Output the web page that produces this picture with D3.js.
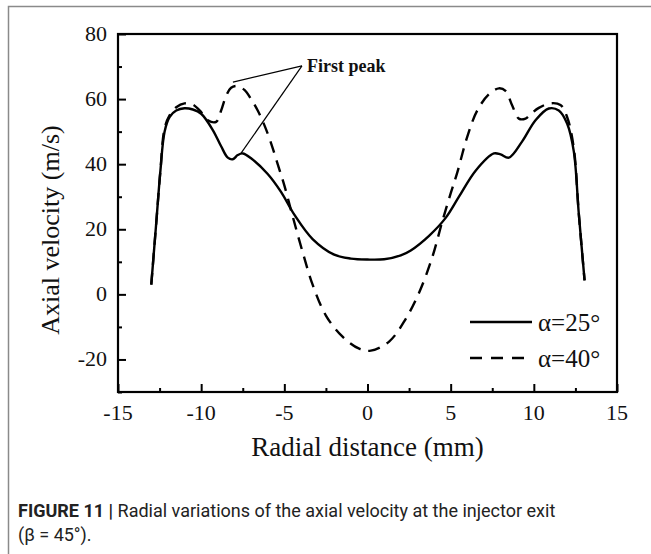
<!DOCTYPE html>
<html><head><meta charset="utf-8">
<script src="https://cdn.jsdelivr.net/npm/d3@7"></script>
<style>body{margin:0;background:#fff}svg{display:block}</style>
</head><body>
<script>
const radialX25 = [-13.0,-12.7,-12.45,-12.2,-11.9,-11.5,-11.0,-10.5,-10.0,-9.3,-8.8,-8.4,-8.1,-7.8,-7.5,-7.0,-6.0,-5.2,-4.4,-3.3,-2.0,-1.0,0,1.0,2.0,2.6,3.7,4.7,5.5,6.5,7.6,8.0,8.5,9.3,10.1,10.9,11.5,12.0,12.4,12.7,13.05];
const velocity25 = [3,22,38,50,54.5,56.5,57.2,56.8,55.5,50.5,45.5,42,41.5,42.8,43.3,41.8,37,31.5,24.5,17,12.2,11,10.7,10.8,12,13.5,18,23.5,30,38,43.3,43,42,47,53.5,57.1,56.5,52.5,44,25,4.3];
const radialX40 = [-13.0,-12.7,-12.45,-12.2,-11.9,-11.5,-11.0,-10.5,-10.0,-9.6,-9.1,-8.8,-8.5,-8.2,-7.8,-7.4,-7.0,-6.6,-6.2,-5.8,-5.4,-5.0,-4.5,-3.9,-3.3,-2.5,-1.5,-0.5,0.2,1.3,2.3,3.1,3.9,4.5,5.0,5.4,6.0,6.6,7.3,7.9,8.3,8.7,9.1,9.5,9.8,10.3,11.0,11.6,12.0,12.4,12.7,13.05];
const velocity40 = [3,22,38,51,55,57.5,58.7,58.3,56,53.5,53,56.5,61,63.5,64,62.8,60,56.5,52,46.5,40,33.5,24,13,3,-6.5,-13,-16.7,-17.3,-14.5,-7.5,0.5,11.5,22.5,31,37.5,48.5,56.5,61.5,63.3,62.5,58,54,54,55.3,57.3,58.7,58.2,54.5,45,25,4.3];
const xTicks = [-15,-10,-5,0,5,10,15];
const yTicks = [-20,0,20,40,60,80];
const seriesLabels = ["α=25°","α=40°"];
const annotationText = "First peak";
const annotationApex = [-3.94, 70.2];
const annotationTargets = [[-8.09, 65.2],[-7.6, 43.4]];

const W = 651, H = 554;
const svg = d3.select("body").append("svg").attr("width", W).attr("height", H);
svg.append("rect").attr("width", W).attr("height", H).attr("fill", "#fff");
svg.append("path").attr("d", `M${W},6.5 H8.5 V${H}`).attr("fill","none").attr("stroke","#8a8a8a").attr("stroke-width",1.5);

const x = d3.scaleLinear().domain([-15,15]).range([118,617]);
const y = d3.scaleLinear().domain([-30,80]).range([392,34]);

const serif = "'Liberation Serif','Times New Roman',serif";

svg.append("rect").attr("x", x(-15)).attr("y", y(80)).attr("width", x(15)-x(-15)).attr("height", y(-30)-y(80))
  .attr("fill","none").attr("stroke","#000").attr("stroke-width",2.2);

const gx = svg.append("g").attr("transform",`translate(0,${y(-30)})`)
  .call(d3.axisBottom(x).tickValues(d3.range(-15,15.01,2.5)).tickSize(0).tickFormat(""));
gx.select(".domain").remove();
gx.selectAll(".tick line").attr("y2", d => (d % 5 === 0) ? -8 : -4).attr("stroke","#000").attr("stroke-width",2);
const gy = svg.append("g").attr("transform",`translate(${x(-15)},0)`)
  .call(d3.axisLeft(y).tickValues(d3.range(-30,80.01,10)).tickSize(0).tickFormat(""));
gy.select(".domain").remove();
gy.selectAll(".tick line").attr("x2", d => (d % 20 === 0) ? 8 : 4).attr("stroke","#000").attr("stroke-width",2);

svg.append("g").selectAll("text").data(xTicks).join("text")
  .attr("x", d => x(d)).attr("y", 420).attr("text-anchor","middle")
  .attr("font-family", serif).attr("font-size", 22).attr("fill","#111")
  .text(d => d);
svg.append("g").selectAll("text").data(yTicks).join("text")
  .attr("x", 107).attr("y", d => y(d) + 7).attr("text-anchor","end")
  .attr("font-family", serif).attr("font-size", 22).attr("fill","#111")
  .text(d => d);

svg.append("text").attr("x", (x(-15)+x(15))/2).attr("y", 456).attr("text-anchor","middle")
  .attr("font-family", serif).attr("font-size", 27).attr("fill","#111").text("Radial distance (mm)");
svg.append("text").attr("transform", "translate(59,230) rotate(-90)").attr("text-anchor","middle")
  .attr("font-family", serif).attr("font-size", 26).attr("fill","#111").text("Axial velocity (m/s)");

const line = d3.line().x(d => x(d[0])).y(d => y(d[1])).curve(d3.curveCatmullRom.alpha(0.5));
const d25 = radialX25.map((v,i) => [v, velocity25[i]]);
const d40 = radialX40.map((v,i) => [v, velocity40[i]]);
svg.append("path").datum(d40).attr("d", line).attr("fill","none").attr("stroke","#000").attr("stroke-width",2.4).attr("stroke-dasharray","12,8");
svg.append("path").datum(d25).attr("d", line).attr("fill","none").attr("stroke","#000").attr("stroke-width",2.4);

annotationTargets.forEach(t => {
  svg.append("line").attr("x1", x(annotationApex[0])).attr("y1", y(annotationApex[1]))
    .attr("x2", x(t[0])).attr("y2", y(t[1])).attr("stroke","#000").attr("stroke-width",1.2);
});
svg.append("text").attr("x", x(annotationApex[0]) + 5).attr("y", y(annotationApex[1]) + 6)
  .attr("font-family", serif).attr("font-weight","bold").attr("font-size", 18).attr("fill","#111").text(annotationText);

const legend = svg.append("g");
seriesLabels.forEach((lab, i) => {
  const ly = 322 + i*36;
  legend.append("line").attr("x1", 470).attr("x2", 532).attr("y1", ly).attr("y2", ly)
    .attr("stroke","#000").attr("stroke-width",2.4).attr("stroke-dasharray", i ? "12,9" : null);
  legend.append("text").attr("x", 538).attr("y", ly + 9).attr("font-family", serif).attr("font-size", 25).attr("fill","#111").text(lab);
});

const capFont = "Roboto, 'Liberation Sans', sans-serif";
const cap = svg.append("text").attr("x", 18).attr("y", 517).attr("font-family", capFont).attr("font-size", 18).attr("fill","#222");
cap.append("tspan").attr("font-weight","bold").text("FIGURE 11 | ");
cap.append("tspan").text("Radial variations of the axial velocity at the injector exit");
svg.append("text").attr("x", 18).attr("y", 541).attr("font-family", capFont).attr("font-size", 18).attr("fill","#222").text("(β = 45°).");
</script>
</body></html>
